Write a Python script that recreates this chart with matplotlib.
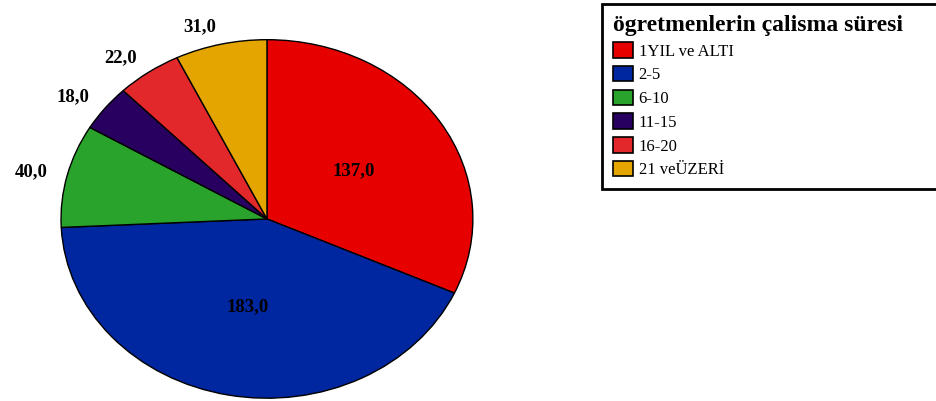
import numpy as np
import matplotlib.pyplot as plt
from matplotlib.patches import Patch

categories = ["1YIL ve ALTI", "2-5", "6-10", "11-15", "16-20", "21 veÜZERİ"]
counts = [137, 183, 40, 18, 22, 31]
colors = ["#e60000", "#0026a0", "#29a32b", "#28005f", "#e2282a", "#e4a500"]
title = "ögretmenlerin çalisma süresi"

# small slices get their value outside the pie
outside = [False, False, True, True, True, True]

fig = plt.figure(figsize=(9.36, 4.01), dpi=100)
ax = fig.add_axes([0.063, 0.0025, 0.4444, 0.903])

wedges, _ = ax.pie(counts, colors=colors, startangle=90, counterclock=False,
                   wedgeprops=dict(edgecolor="black", linewidth=1.0))
ax.set_aspect("auto")
ax.set_xlim(-1.01, 1.01)
ax.set_ylim(-1.01, 1.01)
ax.axis("off")

for w, v, out in zip(wedges, counts, outside):
    ang = np.deg2rad((w.theta1 + w.theta2) / 2)
    txt = f"{v:.1f}".replace(".", ",")
    if out:
        r = 1.1
        ax.text(r * np.cos(ang), r * np.sin(ang), txt, ha="right", va="center",
                fontsize=13.5, fontweight="bold", family="Liberation Serif",
                clip_on=False)
    else:
        r = 0.5
        ax.text(r * np.cos(ang), r * np.sin(ang), txt, ha="center", va="center",
                fontsize=13.5, fontweight="bold", family="Liberation Serif")

handles = [Patch(facecolor=c, edgecolor="black", linewidth=1.2) for c in colors]
leg = fig.legend(handles, categories, loc="upper left", mode="expand",
                 bbox_to_anchor=(0.643, 0.5, 0.365, 0.49), borderaxespad=0,
                 frameon=True, fancybox=False, edgecolor="black", framealpha=1,
                 borderpad=0.65, handlelength=1.2, handleheight=1.05,
                 handletextpad=0.35, labelspacing=0.38, alignment="left",
                 prop={"family": "Liberation Serif", "size": 12})
leg.set_title(title, prop={"family": "Liberation Serif", "size": 17,
                           "weight": "bold"})
leg.get_frame().set_linewidth(2)

fig.savefig("out.png", dpi=100)
